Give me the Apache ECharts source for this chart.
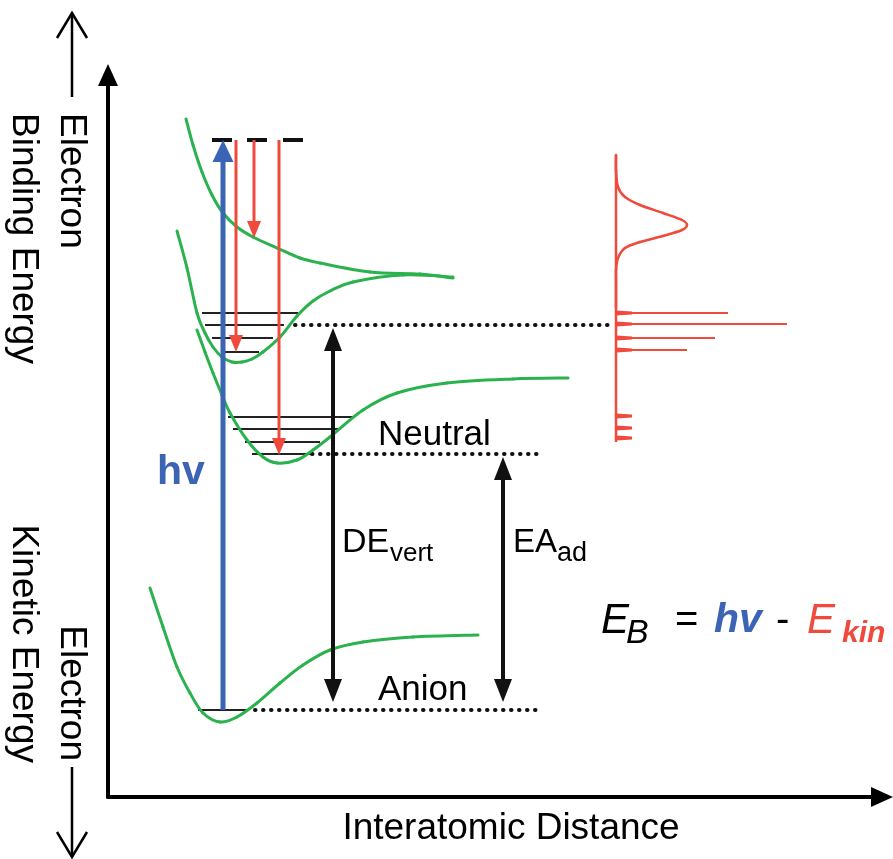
<!DOCTYPE html>
<html>
<head>
<meta charset="utf-8">
<title>Photoelectron spectroscopy energy diagram</title>
<script src="https://cdn.jsdelivr.net/npm/echarts@6/dist/echarts.min.js"></script>
<style>
  html, body { margin: 0; padding: 0; background: #ffffff; }
  #chart { width: 893px; height: 859px; }
</style>
</head>
<body>
<div id="chart"></div>
<script>
// ---- Potential energy curves: [interatomic distance, energy] ----
const upperRepulsive = [[78,678],[85,652],[94,625],[104,602],[115,584],[129,570],[145,560],[169,549],[192,539],[212,534],[262,525],[312,523],[345,519]];
const excitedNeutral = [[69,566],[79,529],[89,484],[97,464],[105,450],[114,440],[124,435],[134,435],[144,438],[155,445],[172,460],[189,481],[205,496],[222,506],[245,515],[295,522],[345,520]];
const groundNeutral = [[89,467],[97,445],[105,424],[114,402],[122,384],[139,357],[155,340],[169,334],[189,337],[205,347],[222,360],[255,387],[289,404],[339,414],[405,418],[460,419]];
const anionCurve = [[42,209],[55,170],[69,130],[82,104],[95,84],[112,75],[129,80],[149,94],[172,114],[195,132],[222,147],[255,155],[305,160],[370,162]];

// ---- Vibrational levels: [distance start, distance end, energy] ----
const excitedLevels = [[94,190,484],[97,176,472],[104,165,459],[113,151,445]];
const neutralLevels = [[120,247,380],[125,230,368],[137,212,355],[144,204,343]];
const anionLevels = [[90,139,87]];
// photon energy marks above the anion ground level
const photonLevels = [[104,124,657],[139,159,657],[175,195,657]];
// dotted reference levels: [distance start, distance end, energy]
const referenceLevels = [[187,500,472],[204,430,343],[147,435,87]];

// ---- Arrows: [distance, energy from, energy to] ----
const photonArrow = [[115,87,657]];
const detachmentArrows = [[128,657,445],[146,657,559],[171,657,342]];
const gapArrows = [[225,95,469],[395,95,340]];
const captionArrows = [[-36,700,784],[-36,30,-60]];

// ---- Photoelectron spectrum (baseline at distance 508) ----
const spectrumBase = [[508,642],[508,355]];
const spectrumBand = [[508,642],[508,627],[510,610],[517,600],[532,592],[555,584],[574,577],[579,572],[574,567],[555,561],[532,555],[517,549],[510,539],[508,527],[508,517],[508,489]];
// [energy, peak end]
const spectrumSticks = [[484,620],[473,679],[459,607],[447,579],[381,522],[369,515],[359,513]];

const GREEN = '#2bb24f';
const RED = '#ef4a3c';
const BLUE = '#3b64b4';
const BLACK = '#111111';
const FONT = '"Liberation Sans", Arial, Helvetica, sans-serif';

// Smooth curve through the points: each item draws a Catmull-Rom segment
// from its point to the next one, converted to a cubic Bezier.
function splineSeries(name, data, color, width) {
  return {
    name, type: 'custom', data, clip: false, silent: true, z: 3,
    renderItem(params, api) {
      const i = params.dataIndex;
      if (i >= data.length - 1) return null;
      const c = (k) => api.coord(data[Math.max(0, Math.min(data.length - 1, k))]);
      const p0 = c(i - 1), p1 = c(i), p2 = c(i + 1), p3 = c(i + 2);
      return {
        type: 'bezierCurve',
        shape: {
          x1: p1[0], y1: p1[1], x2: p2[0], y2: p2[1],
          cpx1: p1[0] + (p2[0] - p0[0]) / 6, cpy1: p1[1] + (p2[1] - p0[1]) / 6,
          cpx2: p2[0] - (p3[0] - p1[0]) / 6, cpy2: p2[1] - (p3[1] - p1[1]) / 6
        },
        style: { stroke: color, lineWidth: width, fill: null, lineCap: 'round' }
      };
    }
  };
}

function segmentSeries(name, data, style, z) {
  return {
    name, type: 'custom', data, clip: false, silent: true, z: z || 2,
    renderItem(params, api) {
      const a = api.coord([api.value(0), api.value(2)]);
      const b = api.coord([api.value(1), api.value(2)]);
      return { type: 'line', shape: { x1: a[0], y1: a[1], x2: b[0], y2: b[1] }, style };
    }
  };
}

function arrowSeries(name, data, opt) {
  return {
    name, type: 'custom', data, clip: false, silent: true, z: opt.z || 5,
    renderItem(params, api) {
      const p0 = api.coord([api.value(0), api.value(1)]);
      const p1 = api.coord([api.value(0), api.value(2)]);
      const dir = p1[1] > p0[1] ? 1 : -1;
      const inset = opt.open ? 0 : opt.headLen * 0.7;
      const children = [{
        type: 'line',
        shape: { x1: p0[0], y1: p0[1] + (opt.both ? dir * inset : 0), x2: p1[0], y2: p1[1] - dir * inset },
        style: { stroke: opt.color, lineWidth: opt.width }
      }];
      const head = (tip, d) => opt.open ? {
        type: 'polyline',
        shape: { points: [[tip[0] - opt.headWidth / 2, tip[1] - d * opt.headLen], [tip[0], tip[1]], [tip[0] + opt.headWidth / 2, tip[1] - d * opt.headLen]] },
        style: { stroke: opt.color, lineWidth: opt.width, fill: null }
      } : {
        type: 'polygon',
        shape: { points: [[tip[0], tip[1]], [tip[0] - opt.headWidth / 2, tip[1] - d * opt.headLen], [tip[0] + opt.headWidth / 2, tip[1] - d * opt.headLen]] },
        style: { fill: opt.color }
      };
      children.push(head(p1, dir));
      if (opt.both) children.push(head(p0, -dir));
      return { type: 'group', children };
    }
  };
}

const chart = echarts.init(document.getElementById('chart'), null, { renderer: 'canvas' });

const axisCommon = {
  type: 'value', min: 0,
  axisLine: { show: true, onZero: false, symbol: ['none', 'triangle'], symbolSize: [20, 22], lineStyle: { color: '#000', width: 4 } },
  axisTick: { show: false }, axisLabel: { show: false }, splitLine: { show: false }
};

function txt(x, y, text, font, color, align, extra) {
  return Object.assign({
    type: 'text', x, y, silent: true,
    style: { text, font, fill: color || '#000', align: align || 'left', verticalAlign: 'middle',
             textAlign: align || 'left', textVerticalAlign: 'middle' }
  }, extra || {});
}

chart.setOption({
  animation: false,
  backgroundColor: '#ffffff',
  grid: { left: 108, right: 11, top: 75, bottom: 62, containLabel: false, outerBoundsMode: 'none' },
  xAxis: Object.assign({}, axisCommon, { max: 774 }),
  yAxis: Object.assign({}, axisCommon, { max: 722 }),
  series: [
    splineSeries('upper repulsive state', upperRepulsive, GREEN, 3),
    splineSeries('excited neutral', excitedNeutral, GREEN, 3),
    splineSeries('neutral', groundNeutral, GREEN, 3),
    splineSeries('anion', anionCurve, GREEN, 3),

    segmentSeries('excited levels', excitedLevels, { stroke: '#222', lineWidth: 2 }),
    segmentSeries('neutral levels', neutralLevels, { stroke: '#222', lineWidth: 2 }),
    segmentSeries('anion level', anionLevels, { stroke: '#222', lineWidth: 2 }),
    segmentSeries('photon level', photonLevels, { stroke: '#111', lineWidth: 4 }),
    segmentSeries('reference levels', referenceLevels, { stroke: '#111', lineWidth: 4, lineDash: [0.5, 7.5], lineCap: 'round' }),

    arrowSeries('photon', photonArrow, { color: BLUE, width: 5, headLen: 22, headWidth: 21, z: 6 }),
    arrowSeries('detachment', detachmentArrows, { color: RED, width: 3, headLen: 17, headWidth: 14, z: 7 }),
    arrowSeries('energy gaps', gapArrows, { color: BLACK, width: 4, headLen: 23, headWidth: 18, both: true }),
    arrowSeries('captions', captionArrows, { color: '#000', width: 2.5, headLen: 25, headWidth: 30, open: true }),

    { name: 'spectrum baseline', type: 'line', data: spectrumBase, symbol: 'none', clip: false, silent: true,
      lineStyle: { color: RED, width: 2.5 } },
    splineSeries('spectrum band', spectrumBand, RED, 2.5),
    { name: 'spectrum peaks', type: 'custom', data: spectrumSticks, clip: false, silent: true,
      renderItem(params, api) {
        const a = api.coord([spectrumBase[0][0], api.value(0)]);
        const b = api.coord([api.value(1), api.value(0)]);
        return { type: 'group', children: [
          { type: 'line', shape: { x1: a[0], y1: a[1], x2: b[0], y2: b[1] }, style: { stroke: RED, lineWidth: 2 } },
          { type: 'polygon', shape: { points: [[a[0], a[1] - 2.5], [a[0] + 16, a[1] - 1.5], [a[0] + 16, a[1] + 1.5], [a[0], a[1] + 2.5]] }, style: { fill: RED } }
        ] };
      }
    }
  ],
  graphic: [
    txt(511, 829, 'Interatomic Distance', '37px ' + FONT, '#000', 'center'),
    txt(71, 113, 'Electron', '37px ' + FONT, '#000', 'left', { rotation: -Math.PI / 2 }),
    txt(23, 113, 'Binding Energy', '37px ' + FONT, '#000', 'left', { rotation: -Math.PI / 2 }),
    txt(71, 761, 'Electron', '37px ' + FONT, '#000', 'right', { rotation: -Math.PI / 2 }),
    txt(23, 763, 'Kinetic Energy', '37px ' + FONT, '#000', 'right', { rotation: -Math.PI / 2 }),

    txt(157, 473, 'hv', 'bold 41px ' + FONT, BLUE),
    txt(378, 435, 'Neutral', '35px ' + FONT),
    txt(378, 690, 'Anion', '35px ' + FONT),
    txt(342, 543, 'DE', '34px ' + FONT),
    txt(390, 554, 'vert', '26px ' + FONT),
    txt(513, 543, 'EA', '33px ' + FONT),
    txt(557, 554, 'ad', '27px ' + FONT),

    txt(601, 621, 'E', 'italic 42px ' + FONT),
    txt(626, 634, 'B', 'italic 34px ' + FONT),
    txt(675, 621, '=', '40px ' + FONT),
    txt(714, 621, 'hv', 'italic bold 41px ' + FONT, BLUE),
    txt(776, 621, '-', '40px ' + FONT),
    txt(807, 621, 'E', 'italic 42px ' + FONT, RED),
    txt(842, 634, 'kin', 'italic bold 30px ' + FONT, RED)
  ]
});
</script>
</body>
</html>
